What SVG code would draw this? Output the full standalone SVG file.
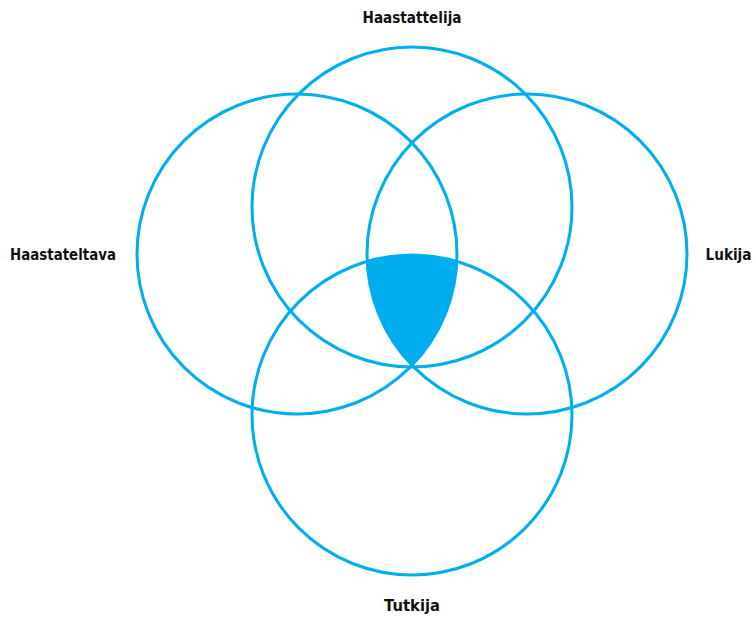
<svg xmlns="http://www.w3.org/2000/svg" width="755" height="617" viewBox="0 0 755 617">
<style>
.c{fill:none;stroke:#00AEEF;stroke-width:3}
.t{font-family:"DejaVu Sans","Liberation Sans",sans-serif;font-weight:bold;font-size:15px;fill:#111;text-anchor:middle}
</style>
<rect width="755" height="617" fill="#fff"/>
<g id="intersection">
<path d="M367.2 261.4 A160 160 0 0 1 456.8 261.4 A160 160 0 0 1 412 365.2 A160 160 0 0 1 367.2 261.4 Z" fill="#00AEEF"/>
</g>
<g id="haastattelija"><circle class="c" cx="412" cy="207" r="160"/><text class="t" x="412" y="23" textLength="99" lengthAdjust="spacingAndGlyphs">Haastattelija</text></g>
<g id="haastateltava"><circle class="c" cx="297" cy="254" r="160"/><text class="t" x="63" y="260" textLength="106" lengthAdjust="spacingAndGlyphs">Haastateltava</text></g>
<g id="lukija"><circle class="c" cx="527" cy="254" r="160"/><text class="t" x="728.5" y="260" textLength="46" lengthAdjust="spacingAndGlyphs">Lukija</text></g>
<g id="tutkija"><circle class="c" cx="412" cy="415" r="160"/><text class="t" x="412" y="611" textLength="56" lengthAdjust="spacingAndGlyphs">Tutkija</text></g>
<g id="connectors"/>
</svg>
